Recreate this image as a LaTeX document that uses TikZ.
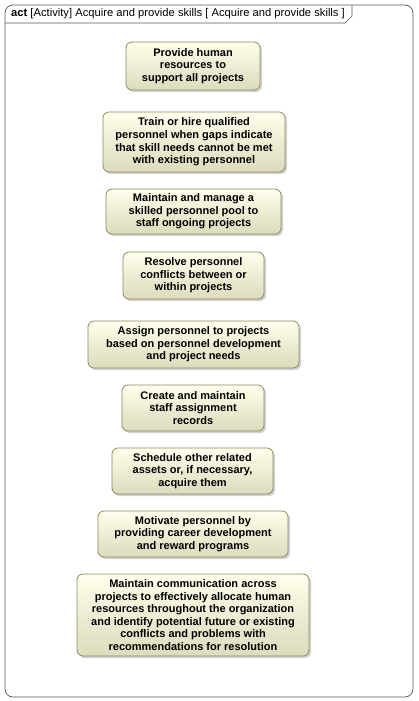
\documentclass[tikz,border=0pt]{standalone}
\usepackage{fontspec}
\setmainfont{Liberation Sans}
\usetikzlibrary{shadows}
\definecolor{acttop}{HTML}{FFFFEC}
\definecolor{actbot}{HTML}{DCDBBC}
\definecolor{actborder}{HTML}{8A8A62}
\definecolor{framecol}{HTML}{555555}
\begin{document}
\begin{tikzpicture}[x=1pt,y=-1pt,
  act/.style={draw=actborder, line width=0.8pt, rounded corners=6pt,
    top color=acttop, bottom color=actbot,
    drop shadow={shadow xshift=2pt, shadow yshift=-2pt, fill=black!30, opacity=0.6},
    align=center, inner sep=0pt,
    font=\fontsize{11}{12.6}\selectfont\bfseries},
  frame/.style={draw=framecol, line width=0.7pt}]
\useasboundingbox (0,0) rectangle (418,701);
\draw[frame, rounded corners=8pt] (5,5) rectangle (413,697);
\draw[frame] (5,23) -- (345,23) -- (352,16) -- (352,5);
\node[anchor=west, inner sep=0pt, font=\fontsize{11.2}{12.5}\selectfont] (title) at (11,14)
  {\textbf{act} [Activity] Acquire and provide skills [ Acquire and provide skills ]};

\node[act, minimum width=134, minimum height=48] (n1) at (193,66)
  {Provide human\\resources to\\support all projects};
\node[act, minimum width=182, minimum height=60] (n2) at (194,142)
  {Train or hire qualified\\personnel when gaps indicate\\that skill needs cannot be met\\with existing personnel};
\node[act, minimum width=175, minimum height=45] (n3) at (193.5,211.5)
  {Maintain and manage a\\skilled personnel pool to\\staff ongoing projects};
\node[act, minimum width=141, minimum height=47] (n4) at (193.5,275.5)
  {Resolve personnel\\conflicts between or\\within projects};
\node[act, minimum width=211, minimum height=47] (n5) at (193.5,344.5)
  {Assign personnel to projects\\based on personnel development\\and project needs};
\node[act, minimum width=142, minimum height=46] (n6) at (193,408)
  {Create and maintain\\staff assignment\\records};
\node[act, minimum width=161, minimum height=46] (n7) at (192.5,471)
  {Schedule other related\\assets or, if necessary,\\acquire them};
\node[act, minimum width=190, minimum height=46] (n8) at (193,534)
  {Motivate personnel by\\providing career development\\and reward programs};
\node[act, minimum width=232, minimum height=82] (n9) at (193,615)
  {Maintain communication across\\projects to effectively allocate human\\resources throughout the organization\\and identify potential future or existing\\conflicts and problems with\\recommendations for resolution};
\end{tikzpicture}
\end{document}
